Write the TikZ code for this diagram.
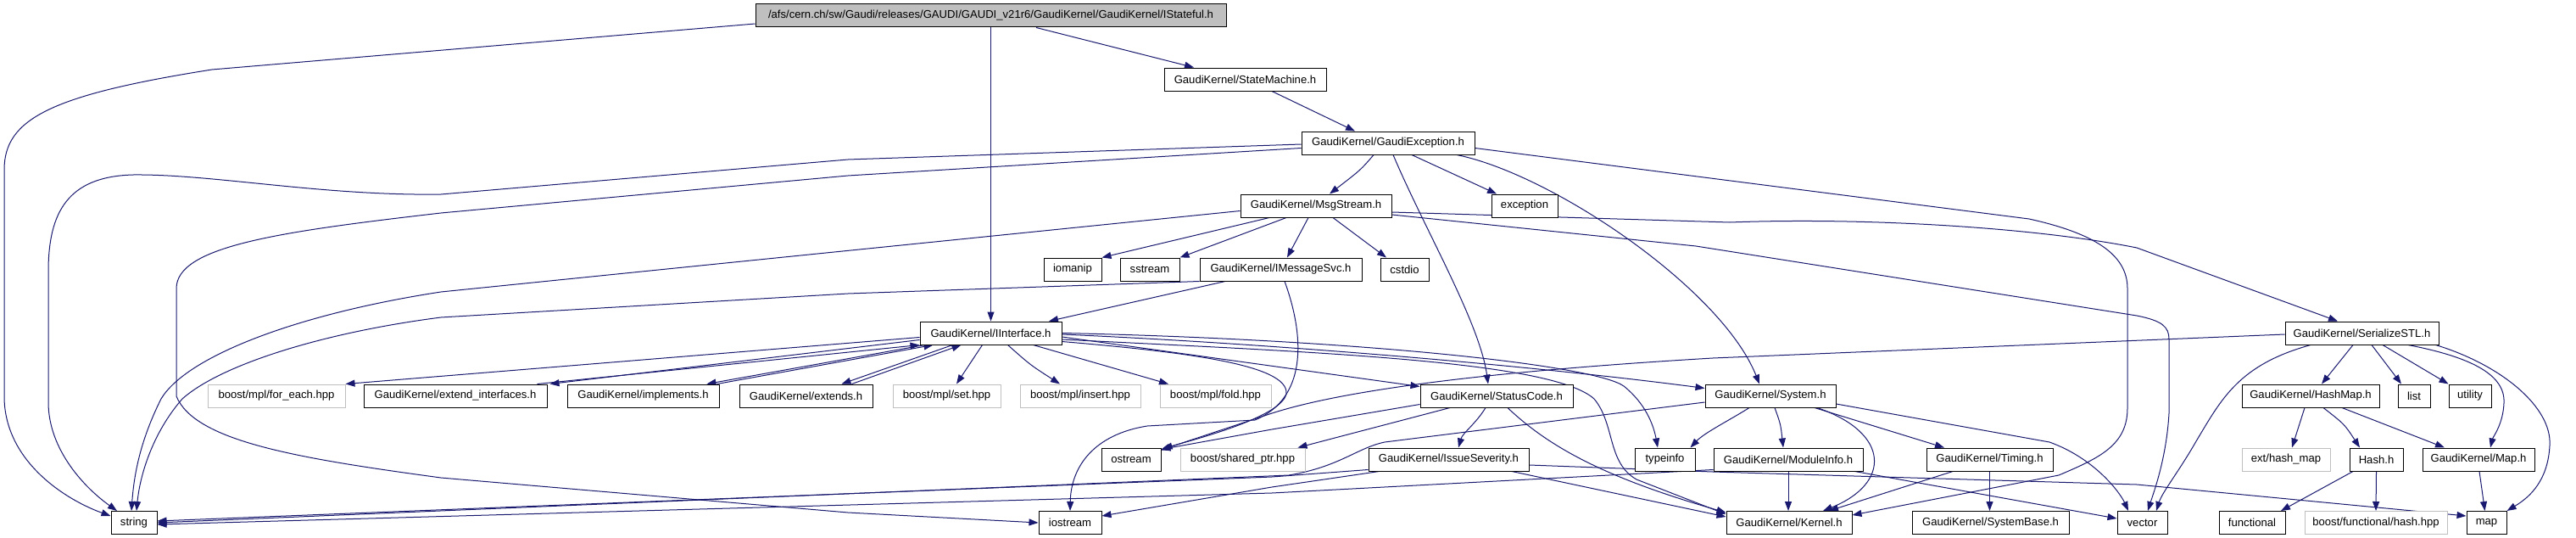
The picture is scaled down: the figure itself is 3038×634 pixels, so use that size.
\documentclass[tikz,border=0pt]{standalone}
\usepackage{fontspec}
\setmainfont{Liberation Sans}
\usetikzlibrary{arrows.meta,calc}
\definecolor{edgec}{HTML}{191970}
\definecolor{grayb}{HTML}{BFBFBF}
\pgfdeclarelayer{bg}
\pgfsetlayers{bg,main}
\tikzset{
  nb/.style={draw=black, line width=1pt, rectangle, inner sep=0pt, minimum height=27pt, fill=white, text=black, font=\fontsize{13.1}{15}\selectfont},
  ng/.style={nb, draw=grayb},
  e/.style={draw=edgec, line width=1pt, -{Triangle[length=11pt,width=8pt]}},
}
\begin{document}
\begin{tikzpicture}[x=1pt,y=-1pt]
\useasboundingbox (0,0) rectangle (3038,634);
% row 0-4
\node[nb, fill=grayb, minimum width=555pt] (root) at (1168.5,18.5) {/afs/cern.ch/sw/Gaudi/releases/GAUDI/GAUDI\_v21r6/GaudiKernel/GaudiKernel/IStateful.h};
\node[nb, minimum width=191pt] (sm) at (1468.5,93.5) {GaudiKernel/StateMachine.h};
\node[nb, minimum width=204pt] (gexc) at (1637,168.5) {GaudiKernel/GaudiException.h};
\node[nb, minimum width=178pt] (msg) at (1552,242.5) {GaudiKernel/MsgStream.h};
\node[nb, minimum width=78pt] (exc) at (1798,242.5) {exception};
\node[nb, minimum width=68pt] (iomanip) at (1265,317.5) {iomanip};
\node[nb, minimum width=70pt] (sstream) at (1356,317.5) {sstream};
\node[nb, minimum width=191pt] (imsg) at (1510.5,317.5) {GaudiKernel/IMessageSvc.h};
\node[nb, minimum width=57pt] (cstdio) at (1656.5,317.5) {cstdio};
% row 5
\node[nb, minimum width=167pt] (ii) at (1168.5,392.5) {GaudiKernel/IInterface.h};
\node[nb, minimum width=181pt] (serial) at (2785.5,392.5) {GaudiKernel/SerializeSTL.h};
% row 6
\node[ng, minimum width=162pt] (foreach) at (326,466.5) {boost/mpl/for\_each.hpp};
\node[nb, minimum width=216pt] (extif) at (537,466.5) {GaudiKernel/extend\_interfaces.h};
\node[nb, minimum width=179pt] (impl) at (758.5,466.5) {GaudiKernel/implements.h};
\node[nb, minimum width=157pt] (extends) at (950.5,466.5) {GaudiKernel/extends.h};
\node[ng, minimum width=127pt] (mplset) at (1116.5,466.5) {boost/mpl/set.hpp};
\node[ng, minimum width=142pt] (mplins) at (1274,466.5) {boost/mpl/insert.hpp};
\node[ng, minimum width=131pt] (mplfold) at (1433.5,466.5) {boost/mpl/fold.hpp};
\node[nb, minimum width=180pt] (sc) at (1765,466.5) {GaudiKernel/StatusCode.h};
\node[nb, minimum width=154pt] (sys) at (2088,466.5) {GaudiKernel/System.h};
\node[nb, minimum width=162pt] (hashmap) at (2725,466.5) {GaudiKernel/HashMap.h};
\node[nb, minimum width=38pt] (list) at (2847,466.5) {list};
\node[nb, minimum width=50pt] (utility) at (2913,466.5) {utility};
% row 7
\node[nb, minimum width=70pt] (ostream) at (1334,541.5) {ostream};
\node[ng, minimum width=147pt] (sharedptr) at (1465.5,541.5) {boost/shared\_ptr.hpp};
\node[nb, minimum width=189pt] (issue) at (1708.5,541.5) {GaudiKernel/IssueSeverity.h};
\node[nb, minimum width=71pt] (typeinfo) at (1963.5,541.5) {typeinfo};
\node[nb, minimum width=176pt] (modinfo) at (2109,541.5) {GaudiKernel/ModuleInfo.h};
\node[nb, minimum width=149pt] (timing) at (2346.5,541.5) {GaudiKernel/Timing.h};
\node[ng, minimum width=104pt] (exthash) at (2696,541.5) {ext/hash\_map};
\node[nb, minimum width=63pt] (hash) at (2802.5,541.5) {Hash.h};
\node[nb, minimum width=132pt] (maph) at (2923,541.5) {GaudiKernel/Map.h};
% row 8
\node[nb, minimum width=54pt] (string) at (158,616) {string};
\node[nb, minimum width=74pt] (iostream) at (1262,616) {iostream};
\node[nb, minimum width=148pt] (kernel) at (2110,616) {GaudiKernel/Kernel.h};
\node[nb, minimum width=185pt] (sysbase) at (2347.5,616) {GaudiKernel/SystemBase.h};
\node[nb, minimum width=59pt] (vector) at (2526.5,616) {vector};
\node[nb, minimum width=78pt] (functional) at (2656,616) {functional};
\node[ng, minimum width=168pt] (boosthash) at (2802,616) {boost/functional/hash.hpp};
\node[nb, minimum width=47pt] (map) at (2932.5,616) {map};

\begin{pgfonlayer}{bg}
% root
\draw[e] ($(root.west)+(0,9.5)$) -- (250,82) .. controls (60,112) and (5,140) .. (5,200) -- (5,467) .. controls (5,545) and (80,590) .. ($(string.west)+(0,-8)$);
\draw[e] ($(root.south)+(53.5,0)$) -- ($(sm.north)+(-60.5,0)$);
\draw[e] (root.south) -- (ii.north);
% state machine
\draw[e] ($(sm.south)+(31.5,0)$) -- ($(gexc.north)+(-39,0)$);
% gaudi exception
\draw[e] ($(gexc.south)+(-17,0)$) .. controls (1605,200) .. ($(msg.north)+(16,0)$);
\draw[e] ($(gexc.south)+(28,0)$) -- ($(exc.north)+(-33,0)$);
\draw[e] ($(gexc.south)+(6,0)$) .. controls (1680,270) and (1745,380) .. ($(sc.north)+(-10,0)$);
\draw[e] ($(gexc.south)+(81,0)$) .. controls (1830,205) and (2030,340) .. ($(sys.north)+(-13,0)$);
\draw[e] ($(gexc.west)+(0,1.5)$) -- (1000,188) -- (520,229) .. controls (380,231) and (250,205) .. (157,206) .. controls (80,208) and (57,250) .. (57,320) -- (57,474) .. controls (57,530) and (100,575) .. ($(string.north)+(-20,0)$);
\draw[e] ($(gexc.west)+(0,6)$) -- (1000,207) -- (520,251) .. controls (330,273) and (208,290) .. (208,340) -- (208,467) .. controls (230,520) and (350,540) .. (520,563) -- (1000,604) -- (iostream.west);
\draw[e] ($(gexc.east)+(0,6)$) -- (2393,258) .. controls (2470,275) and (2509,300) .. (2509,340) -- (2509,481) .. controls (2509,525) and (2475,540) .. (2428,560) -- ($(kernel.east)+(0,-9)$);
% msgstream
\draw[e] ($(msg.south)+(-55,0)$) -- (iomanip.north east);
\draw[e] ($(msg.south)+(-35,0)$) -- (sstream.north east);
\draw[e] ($(msg.south)+(-9,0)$) -- ($(imsg.north)+(7.5,0)$);
\draw[e] ($(msg.south)+(20,0)$) -- ($(cstdio.north)+(-21.5,0)$);
\draw[e] ($(msg.west)+(0,6)$) -- (520,344) .. controls (350,370) and (220,420) .. (190,470) .. controls (165,520) and (158,560) .. ($(string.north)+(-3,0)$);
\draw[e] ($(msg.east)+(0,7.5)$) -- (2040,262) .. controls (2200,256) and (2400,268) .. (2520,292) -- ($(serial.north)+(-28.5,0)$);
\draw[e] ($(msg.east)+(0,10.5)$) -- (2000,290) -- (2520,372) .. controls (2550,378) and (2558,385) .. (2558,400) -- (2558,487) .. controls (2555,540) and (2540,580) .. ($(vector.north)+(6.5,0)$);
% imessagesvc
\draw[e] (imsg.south west) -- (1000,346) -- (520,374) .. controls (380,392) and (260,430) .. (215,470) .. controls (180,510) and (165,560) .. ($(string.north)+(3,0)$);
\draw[e] ($(imsg.south)+(-65.5,0)$) -- ($(ii.north)+(68.5,0)$);
\draw[e] ($(imsg.south)+(4.5,0)$) .. controls (1540,400) and (1540,470) .. (1480,495) -- (1353,502) .. controls (1290,512) and (1263,550) .. (iostream.north);
% iinterface
\draw[e] ($(ii.west)+(0,5)$) -- (foreach.north east);
\draw[e] ($(ii.south)+(-10,0)$) -- ($(mplset.north)+(11.5,0)$);
\draw[e] ($(ii.south)+(20,0)$) .. controls (1215,430) .. ($(mplins.north)+(-24,0)$);
\draw[e] ($(ii.south)+(50,0)$) -- ($(mplfold.north)+(-55.5,0)$);
\draw[e] ($(ii.west)+(0,8)$) -- ($(extif.north east)+(3,0)$);
\draw[e] ($(extif.north east)+(-12,0)$) -- (ii.south west);
\draw[e] ($(ii.south)+(-78,0)$) -- ($(impl.north east)+(-15,0)$);
\draw[e] ($(impl.north east)+(-3,0)$) -- ($(ii.south)+(-68,0)$);
\draw[e] ($(ii.south)+(-45,0)$) -- ($(extends.north east)+(-37,0)$);
\draw[e] ($(extends.north east)+(-25,0)$) -- ($(ii.south)+(-35,0)$);
\draw[e] ($(ii.east)+(0,4.5)$) -- ($(sc.west)+(0,-11)$);
\draw[e] ($(ii.east)+(0,1.5)$) .. controls (1500,405) and (1800,430) .. ($(sys.west)+(0,-9)$);
\draw[e] (ii.east) .. controls (1600,400) and (1880,430) .. (1915,455) .. controls (1940,475) and (1950,500) .. ($(typeinfo.north)+(-8.5,0)$);
\draw[e] ($(ii.east)+(0,7.5)$) .. controls (1550,415) and (1830,425) .. (1880,470) .. controls (1905,500) and (1895,545) .. (1930,565) -- ($(kernel.west)+(0,-10)$);
\draw[e] ($(ii.east)+(0,10)$) .. controls (1400,415) and (1520,430) .. (1517,464) .. controls (1512,490) and (1420,515) .. ($(ostream.north east)+(2,1)$);
% statuscode
\draw[e] ($(sc.south)+(-55,0)$) -- ($(sharedptr.north east)+(-9,0)$);
\draw[e] ($(sc.south)+(-13,0)$) .. controls (1740,500) and (1725,510) .. ($(issue.north)+(11.5,0)$);
\draw[e] ($(sc.south)+(13,0)$) .. controls (1830,530) and (1900,565) .. ($(kernel.west)+(0,-12)$);
\draw[e] ($(sc.west)+(0,10)$) -- (1500,506) -- ($(ostream.north east)+(0,2)$);
% serializestl
\draw[e] ($(serial.west)+(0,1.5)$) -- (2020,422) .. controls (1800,435) and (1600,455) .. (1500,487) -- ($(ostream.north east)+(-1,3)$);
\draw[e] ($(serial.south)+(-60.5,0)$) .. controls (2640,430) and (2620,470) .. (2590,520) .. controls (2570,555) and (2550,580) .. ($(vector.north)+(16.5,0)$);
\draw[e] ($(serial.south)+(-10.5,0)$) -- ($(hashmap.north)+(13,0)$);
\draw[e] ($(serial.south)+(11.5,0)$) -- ($(list.north)+(-15,0)$);
\draw[e] ($(serial.south)+(24.5,0)$) -- (utility.north west);
\draw[e] ($(serial.south)+(54.5,0)$) .. controls (2910,420) and (2955,440) .. (2953,475) .. controls (2952,500) and (2940,515) .. ($(maph.north)+(14,0)$);
\draw[e] ($(serial.south east)+(-4,0)$) .. controls (2950,430) and (3010,480) .. (3007,525) .. controls (3005,565) and (2985,585) .. (map.north east);
% hashmap, hash, map
\draw[e] ($(hashmap.south)+(-7,0)$) -- ($(exthash.north)+(7,0)$);
\draw[e] ($(hashmap.south)+(15,0)$) .. controls (2765,500) .. ($(hash.north)+(-19.5,0)$);
\draw[e] ($(hashmap.south)+(37,0)$) -- ($(maph.north)+(-40,0)$);
\draw[e] ($(hash.south)+(-27.5,0)$) -- ($(functional.north)+(34,0)$);
\draw[e] (hash.south) -- (boosthash.north);
\draw[e] ($(maph.south)+(1,0)$) -- ($(map.north)+(-2,0)$);
% issueseverity
\draw[e] ($(issue.south)+(74.5,0)$) -- ($(kernel.west)+(0,-7)$);
\draw[e] ($(issue.east)+(0,6.5)$) -- (2020,556) -- (2520,571) -- ($(map.west)+(0,-8)$);
\draw[e] ($(issue.west)+(0,12)$) -- (1500,562) -- ($(string.east)+(0,-2)$);
\draw[e] ($(issue.south west)+(13,0)$) -- (1500,574) -- ($(iostream.east)+(0,-8)$);
% system
\draw[e] ($(sys.west)+(0,7.5)$) -- (1633,521) .. controls (1600,528) and (1580,550) .. (1520,560) -- (string.east);
\draw[e] ($(sys.south)+(-25,0)$) .. controls (2040,495) and (2010,510) .. ($(typeinfo.north east)+(-6,0)$);
\draw[e] ($(sys.south)+(5,0)$) .. controls (2100,500) .. ($(modinfo.north)+(-6,0)$);
\draw[e] ($(sys.south)+(55,0)$) .. controls (2230,510) and (2230,570) .. ($(kernel.north)+(40,0)$);
\draw[e] ($(sys.south)+(52,0)$) -- ($(timing.north)+(-53.5,0)$);
\draw[e] ($(sys.east)+(0,9.5)$) -- (2417,521) .. controls (2470,540) and (2500,580) .. ($(vector.north)+(-16.5,0)$);
% moduleinfo
\draw[e] (modinfo.south) -- ($(kernel.north)+(-1,0)$);
\draw[e] ($(modinfo.south east)+(-10,0)$) -- ($(vector.west)+(0,-5)$);
\draw[e] ($(modinfo.west)+(0,12)$) -- (1500,581) -- ($(string.east)+(0,2)$);
% timing
\draw[e] ($(timing.south)+(-43.5,0)$) -- ($(kernel.north)+(47,0)$);
\draw[e] (timing.south) -- ($(sysbase.north)+(-1,0)$);
\end{pgfonlayer}
\end{tikzpicture}
\end{document}
